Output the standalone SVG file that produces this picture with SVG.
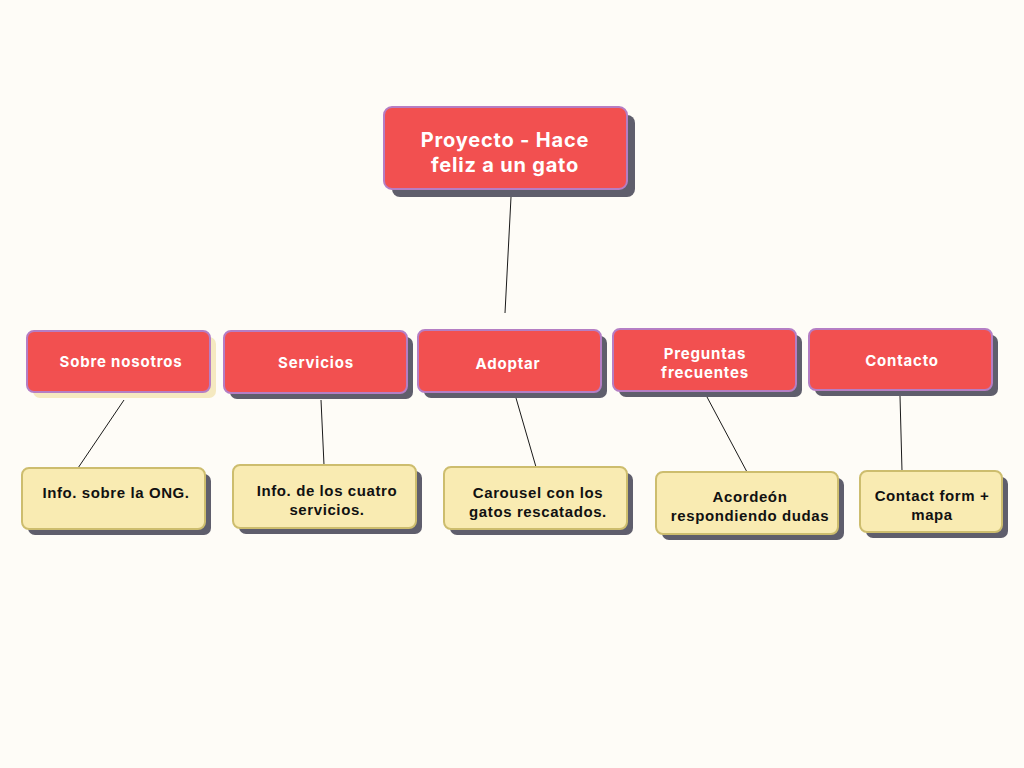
<svg xmlns="http://www.w3.org/2000/svg" width="1024" height="768" viewBox="0 0 1024 768">
  <style>
    .shadow { fill: #5f5e6c; }
    .shadow-light { fill: #f5e9c0; }
    .topic { fill: #f25050; stroke: #b57ec4; stroke-width: 2; }
    .note { fill: #f9ebb2; stroke: #cdbd6e; stroke-width: 2; }
    .topic-text { font-family: Inter, "Noto Sans", sans-serif; font-weight: 700; fill: #ffffff; text-anchor: middle; letter-spacing: 0.8px; }
    .note-text { font-family: "Liberation Sans", Arial, sans-serif; font-weight: 700; fill: #111111; font-size: 15px; text-anchor: middle; letter-spacing: 0.6px; }
    .link { stroke: #1a1a1a; stroke-width: 1; fill: none; }
  </style>
  <rect width="1024" height="768" fill="#fefcf7"/>

  <g id="connectors">
    <line class="link" x1="511" y1="197" x2="505" y2="313"/>
    <line class="link" x1="124" y1="400" x2="78" y2="468"/>
    <line class="link" x1="321" y1="400" x2="324" y2="465"/>
    <line class="link" x1="516" y1="398" x2="536" y2="467"/>
    <line class="link" x1="707" y1="397" x2="747" y2="472"/>
    <line class="link" x1="900" y1="396" x2="902" y2="471"/>
  </g>

  <g id="root">
    <rect class="shadow" x="392" y="115" width="243" height="82" rx="8"/>
    <rect class="topic" x="384" y="107" width="243" height="82" rx="8"/>
    <text class="topic-text" font-size="20" x="505" y="147">Proyecto - Hace</text>
    <text class="topic-text" font-size="20" x="505" y="172">feliz a un gato</text>
  </g>

  <g id="sobre-nosotros">
    <rect class="shadow-light" x="33" y="337" width="183" height="61" rx="7"/>
    <rect class="topic" x="27" y="331" width="183" height="61" rx="7"/>
    <text class="topic-text" font-size="15" x="121" y="367">Sobre nosotros</text>
  </g>

  <g id="servicios">
    <rect class="shadow" x="230" y="337" width="183" height="62" rx="7"/>
    <rect class="topic" x="224" y="331" width="183" height="62" rx="7"/>
    <text class="topic-text" font-size="15" x="316" y="368">Servicios</text>
  </g>

  <g id="adoptar">
    <rect class="shadow" x="424" y="336" width="183" height="62" rx="7"/>
    <rect class="topic" x="418" y="330" width="183" height="62" rx="7"/>
    <text class="topic-text" font-size="15" x="508" y="369">Adoptar</text>
  </g>

  <g id="preguntas-frecuentes">
    <rect class="shadow" x="619" y="335" width="183" height="62" rx="7"/>
    <rect class="topic" x="613" y="329" width="183" height="62" rx="7"/>
    <text class="topic-text" font-size="15" x="705" y="359">Preguntas</text>
    <text class="topic-text" font-size="15" x="705" y="378">frecuentes</text>
  </g>

  <g id="contacto">
    <rect class="shadow" x="815" y="335" width="183" height="61" rx="7"/>
    <rect class="topic" x="809" y="329" width="183" height="61" rx="7"/>
    <text class="topic-text" font-size="15" x="902" y="366">Contacto</text>
  </g>

  <g id="info-ong">
    <rect class="shadow" x="28" y="474" width="183" height="61" rx="7"/>
    <rect class="note" x="22" y="468" width="183" height="61" rx="7"/>
    <text class="note-text" x="116" y="498">Info. sobre la ONG.</text>
  </g>

  <g id="info-servicios">
    <rect class="shadow" x="239" y="471" width="183" height="63" rx="7"/>
    <rect class="note" x="233" y="465" width="183" height="63" rx="7"/>
    <text class="note-text" x="327" y="496">Info. de los cuatro</text>
    <text class="note-text" x="327" y="515">servicios.</text>
  </g>

  <g id="carousel">
    <rect class="shadow" x="450" y="473" width="183" height="62" rx="7"/>
    <rect class="note" x="444" y="467" width="183" height="62" rx="7"/>
    <text class="note-text" x="538" y="498">Carousel con los</text>
    <text class="note-text" x="538" y="517">gatos rescatados.</text>
  </g>

  <g id="acordeon">
    <rect class="shadow" x="662" y="478" width="182" height="62" rx="7"/>
    <rect class="note" x="656" y="472" width="182" height="62" rx="7"/>
    <text class="note-text" x="750" y="502">Acordeón</text>
    <text class="note-text" x="750" y="521">respondiendo dudas</text>
  </g>

  <g id="contact-form">
    <rect class="shadow" x="866" y="477" width="142" height="61" rx="7"/>
    <rect class="note" x="860" y="471" width="142" height="61" rx="7"/>
    <text class="note-text" x="932" y="501">Contact form +</text>
    <text class="note-text" x="932" y="520">mapa</text>
  </g>
</svg>
